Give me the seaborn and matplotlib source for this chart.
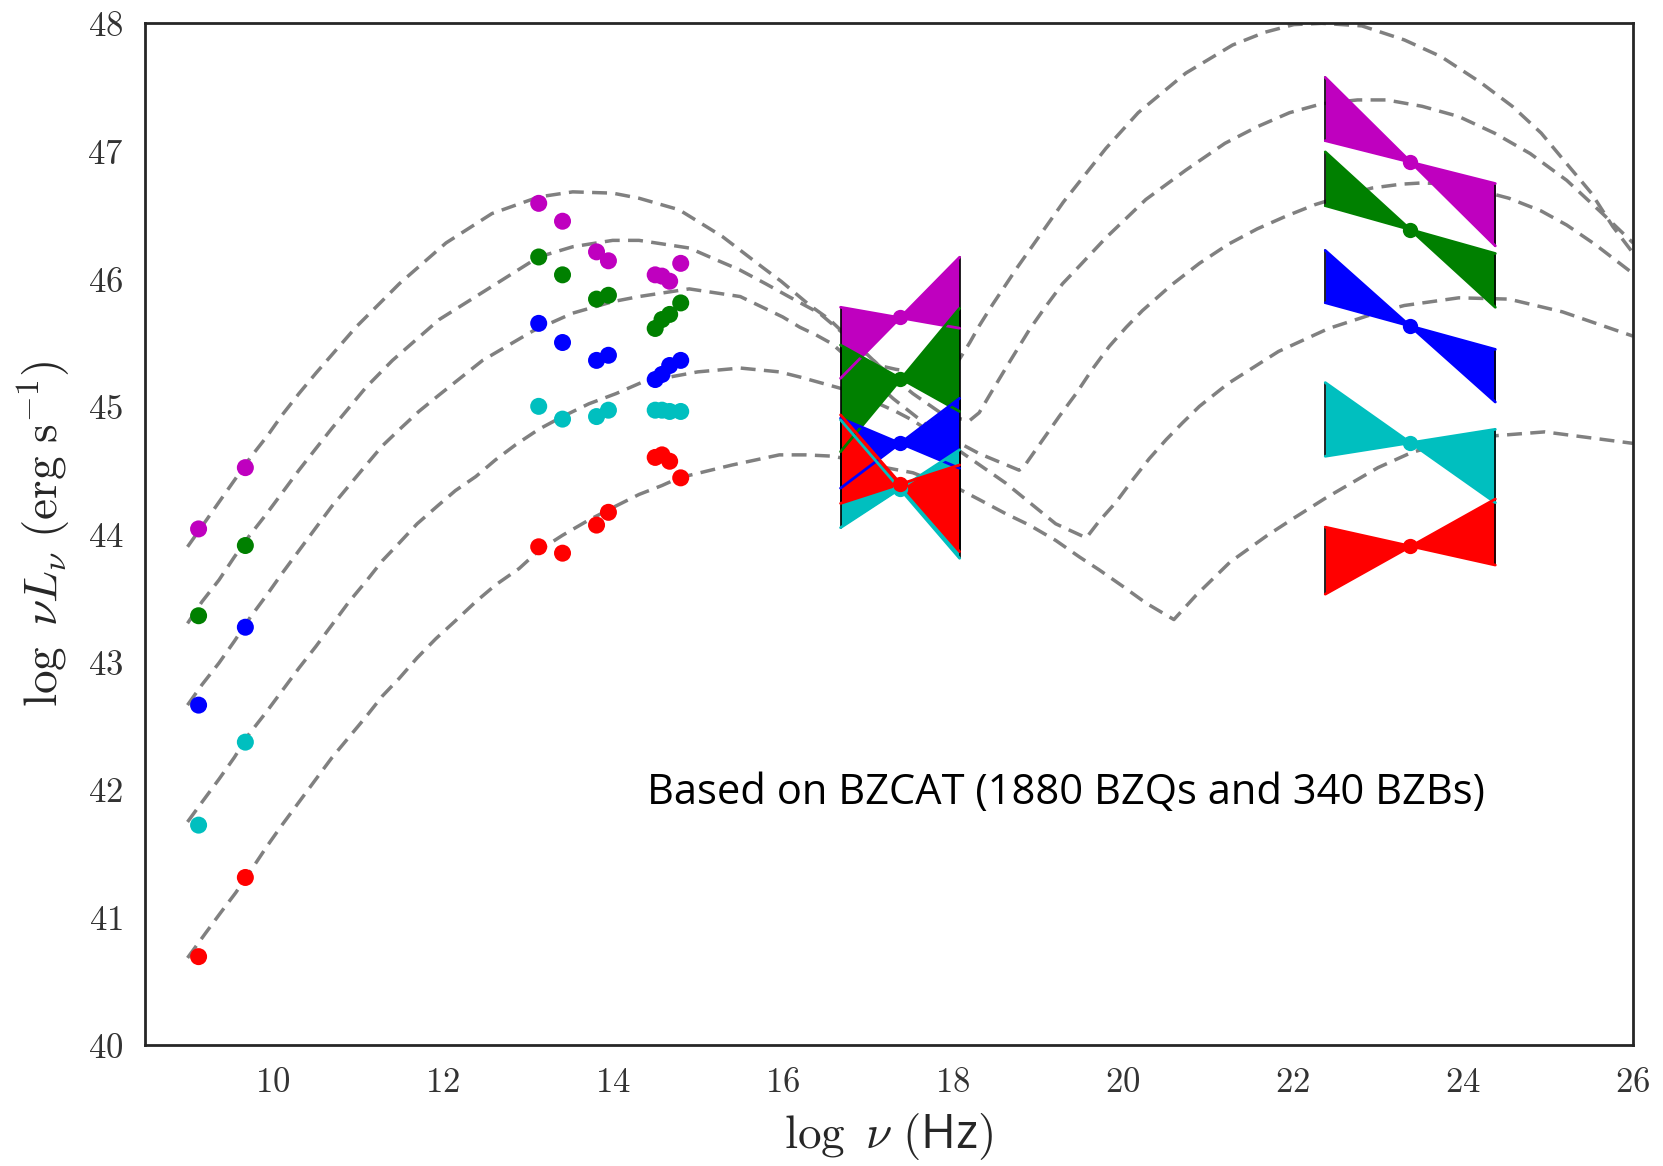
import numpy as np
import pandas as pd
import matplotlib
matplotlib.use("Agg")
import matplotlib.pyplot as plt
import seaborn as sns

# ---------------- data ----------------
series_names = ["m", "g", "b", "c", "r"]
series_colors = ["#BF00BF", "#008000", "#0000FF", "#00BFBF", "#FF0000"]

x_radio = [9.13, 9.68]
x_ir = [13.13, 13.41, 13.81, 13.95]
x_opt = [14.50, 14.58, 14.67, 14.80]

radio_m = [44.04, 44.52]
radio_g = [43.36, 43.91]
radio_b = [42.66, 43.27]
radio_c = [41.72, 42.37]
radio_r = [40.69, 41.31]

ir_m = [46.59, 46.45, 46.21, 46.14]
ir_g = [46.17, 46.03, 45.84, 45.87]
ir_b = [45.65, 45.50, 45.36, 45.40]
ir_c = [45.00, 44.90, 44.92, 44.97]
ir_r = [43.90, 43.85, 44.07, 44.17]

opt_m = [46.03, 46.02, 45.98, 46.12]
opt_g = [45.61, 45.68, 45.72, 45.81]
opt_b = [45.21, 45.25, 45.32, 45.36]
opt_c = [44.97, 44.97, 44.96, 44.96]
opt_r = [44.60, 44.62, 44.57, 44.44]

# X-ray bow-ties: left edge, centre, right edge (log nu); two lines (left, right) and centre value
xray_x = [16.68, 17.38, 18.08]
xray_lineA = [(45.776, 45.612), (45.48, 44.96), (44.907, 44.515), (44.894, 43.81), (44.933, 43.862)]
xray_lineB = [(45.220, 46.168), (44.645, 45.768), (44.359, 45.063), (44.05, 44.66), (44.24, 44.541)]
xray_center = [45.698, 45.215, 44.711, 44.353, 44.392]

# gamma-ray bow-ties
gamma_x = [22.38, 23.38, 24.38]
gamma_lineA = [(47.576, 46.257), (46.993, 45.776), (46.221, 45.034), (45.186, 44.246), (44.054, 43.757)]
gamma_lineB = [(47.081, 46.745), (46.572, 46.197), (45.812, 45.446), (44.609, 44.82), (43.529, 44.274)]
gamma_center = [46.91, 46.385, 45.63, 44.716, 43.905]

# SED model curves
curve1_x = [9.0, 9.17, 9.37, 9.55, 9.74, 9.94, 10.11, 10.31, 10.51, 10.98, 11.49, 12.04, 12.58, 13.13,
            13.53, 14.0, 14.31, 14.78, 15.29, 15.76, 15.98, 16.32, 16.55, 16.74, 16.94, 17.13, 17.33,
            17.53, 17.72, 17.92, 18.06, 18.20, 18.31, 18.47, 18.62, 18.76, 19.3, 19.8, 20.18, 20.74,
            21.29, 21.67, 22.01, 22.34, 22.81, 23.31, 23.74, 24.2, 24.58, 24.92, 25.22, 25.51, 25.76, 26.0]
curve1_y = [43.90, 44.06, 44.25, 44.42, 44.60, 44.77, 44.93, 45.10, 45.26, 45.62, 45.96, 46.28, 46.51, 46.64,
            46.68, 46.67, 46.63, 46.54, 46.33, 46.09, 45.98, 45.79, 45.68, 45.56, 45.44, 45.32, 45.29,
            45.27, 45.28, 45.31, 45.35, 45.50, 45.63, 45.80, 45.95, 46.09, 46.60, 47.02, 47.30, 47.61,
            47.83, 47.93, 47.99, 48.0, 47.98, 47.87, 47.74, 47.54, 47.35, 47.14, 46.90, 46.67, 46.41, 46.20]

curve2_x = [9.0, 9.17, 9.37, 9.55, 9.72, 9.92, 10.11, 10.31, 10.51, 10.70, 10.90, 11.10, 11.41, 11.96,
            12.51, 13.13, 13.53, 14.0, 14.31, 14.90, 15.21, 15.49, 15.80, 16.07, 16.43, 16.82, 17.13,
            17.53, 17.92, 18.20, 18.31, 18.47, 18.66, 18.90, 19.09, 19.29, 19.49, 19.80, 20.27, 20.74,
            21.20, 21.58, 21.96, 22.34, 22.76, 23.10, 23.52, 23.95, 24.37, 24.79, 25.22, 25.64, 26.0]
curve2_y = [43.30, 43.47, 43.64, 43.82, 43.98, 44.15, 44.32, 44.50, 44.67, 44.83, 44.99, 45.15, 45.36, 45.68,
            45.91, 46.17, 46.25, 46.30, 46.30, 46.24, 46.15, 46.07, 45.96, 45.86, 45.73, 45.51, 45.32,
            45.10, 44.92, 44.89, 44.95, 45.13, 45.34, 45.60, 45.78, 45.96, 46.10, 46.32, 46.62, 46.85,
            47.06, 47.19, 47.30, 47.37, 47.40, 47.40, 47.35, 47.27, 47.14, 46.98, 46.77, 46.51, 46.28]

curve3_x = [9.0, 9.17, 9.37, 9.55, 9.74, 9.94, 10.11, 10.31, 10.51, 10.70, 10.90, 11.10, 11.29, 11.51,
            11.72, 11.96, 12.47, 13.06, 13.53, 14.0, 14.31, 14.9, 15.5, 16.0, 16.20, 16.39, 16.58, 16.9,
            17.3, 17.72, 18.31, 18.78, 18.86, 19.06, 19.25, 19.45, 19.64, 19.84, 20.04, 20.23, 20.57,
            20.9, 21.24, 21.58, 21.92, 22.26, 22.60, 22.93, 23.27, 23.52, 23.86, 24.20, 24.54, 24.92,
            25.22, 25.55, 26.0]
curve3_y = [42.66, 42.82, 42.99, 43.16, 43.35, 43.53, 43.69, 43.87, 44.05, 44.22, 44.38, 44.54, 44.69, 44.83,
            44.96, 45.09, 45.36, 45.59, 45.73, 45.82, 45.86, 45.92, 45.86, 45.70, 45.62, 45.56, 45.49, 45.30,
            45.06, 44.84, 44.63, 44.50, 44.55, 44.74, 44.92, 45.10, 45.29, 45.47, 45.62, 45.75, 45.95,
            46.12, 46.27, 46.39, 46.49, 46.58, 46.65, 46.71, 46.74, 46.75, 46.74, 46.69, 46.63, 46.53,
            46.42, 46.27, 46.04]

curve4_x = [9.0, 9.17, 9.37, 9.55, 9.72, 9.92, 10.11, 10.31, 10.51, 10.70, 10.90, 11.10, 11.29, 11.49,
            11.70, 11.94, 12.15, 12.39, 12.62, 12.86, 13.13, 13.41, 13.72, 14.04, 14.35, 15.0, 15.5,
            15.96, 16.20, 16.47, 16.74, 16.94, 17.13, 17.33, 17.53, 18.08, 18.62, 19.21, 19.57, 19.72,
            19.92, 20.11, 20.31, 20.51, 20.70, 20.90, 21.24, 21.83, 22.42, 23.02, 23.31, 23.95, 24.54,
            25.17, 26.0]
curve4_y = [41.745, 41.90, 42.08, 42.25, 42.43, 42.60, 42.77, 42.95, 43.12, 43.29, 43.47, 43.63, 43.79, 43.93,
            44.08, 44.22, 44.34, 44.45, 44.58, 44.70, 44.82, 44.92, 45.02, 45.10, 45.19, 45.27, 45.30,
            45.27, 45.23, 45.18, 45.13, 45.08, 45.02, 44.96, 44.89, 44.65, 44.40, 44.08, 43.97, 44.10,
            44.25, 44.42, 44.59, 44.74, 44.87, 45.00, 45.18, 45.43, 45.61, 45.74, 45.79, 45.85, 45.84,
            45.74, 45.55]

curve5_x = [9.0, 9.213, 9.39, 9.566, 9.76, 9.94, 10.11, 10.31, 10.51, 10.70, 10.90, 11.10, 11.29, 11.49,
            11.70, 11.92, 12.15, 12.39, 12.62, 12.90, 13.13, 13.41, 13.72, 14.04, 14.31, 14.58, 14.78,
            15.4, 15.96, 16.27, 16.58, 16.90, 17.21, 17.53, 17.80, 18.08, 18.31, 18.62, 18.90, 19.21,
            19.49, 19.72, 20.0, 20.27, 20.60, 20.86, 21.26, 21.7, 22.0, 22.38, 23.0, 23.40, 24.0, 24.96, 26.0]
curve5_y = [40.68, 40.875, 41.035, 41.19, 41.38, 41.56, 41.72, 41.90, 42.08, 42.25, 42.41, 42.57, 42.73, 42.87,
            43.03, 43.18, 43.32, 43.47, 43.60, 43.73, 43.87, 43.99, 44.11, 44.22, 44.31, 44.38, 44.44,
            44.54, 44.62, 44.62, 44.61, 44.57, 44.52, 44.48, 44.41, 44.35, 44.27, 44.16, 44.07, 43.95,
            43.82, 43.72, 43.59, 43.46, 43.33, 43.52, 43.78, 43.99, 44.12, 44.28, 44.52, 44.64, 44.75, 44.80, 44.71]

xticks = [10, 12, 14, 16, 18, 20, 22, 24, 26]
yticks = [40, 41, 42, 43, 44, 45, 46, 47, 48]
annotation = "Based on BZCAT (1880 BZQs and 340 BZBs)"

# ---------------- style ----------------
sns.set_style("white")
plt.rcParams["mathtext.fontset"] = "cm"
plt.rcParams["font.family"] = ["Open Sans", "DejaVu Sans"]
plt.rcParams["axes.edgecolor"] = "#262626"
plt.rcParams["axes.linewidth"] = 2.0

fig = plt.figure(figsize=(16.63, 11.66), dpi=100)
ax = fig.add_axes([0.0872, 0.104, 0.8948, 0.876])

# curves
curves = [(curve1_x, curve1_y), (curve2_x, curve2_y), (curve3_x, curve3_y),
          (curve4_x, curve4_y), (curve5_x, curve5_y)]
for i, (cx, cy) in enumerate(curves):
    df = pd.DataFrame({"x": cx, "y": cy})
    sns.lineplot(data=df, x="x", y="y", ax=ax, sort=False, estimator=None,
                 color="gray", lw=2.5, zorder=1)
    ax.lines[-1].set_dashes([4.3, 2.4])

# points
rows = []
radios = [radio_m, radio_g, radio_b, radio_c, radio_r]
irs = [ir_m, ir_g, ir_b, ir_c, ir_r]
opts = [opt_m, opt_g, opt_b, opt_c, opt_r]
for name, ra, ir, op in zip(series_names, radios, irs, opts):
    for xv, yv in zip(x_radio + x_ir + x_opt, ra + ir + op):
        rows.append({"x": xv, "y": yv, "s": name})
pts = pd.DataFrame(rows)
sns.scatterplot(data=pts, x="x", y="y", hue="s", palette=dict(zip(series_names, series_colors)),
                s=150, linewidth=0, legend=False, ax=ax, zorder=4)

# bow-ties
def bowtie(xs, la, lb, yc, col):
    y1 = [la[0], yc, la[1]]
    y2 = [lb[0], yc, lb[1]]
    ax.fill_between(xs, y1, y2, color=col, lw=0, zorder=2)
    return y1, y2

for xs, LA, LB, YC in [(xray_x, xray_lineA, xray_lineB, xray_center),
                       (gamma_x, gamma_lineA, gamma_lineB, gamma_center)]:
    lines = []
    for la, lb, yc, col in zip(LA, LB, YC, series_colors):
        lines.append((bowtie(xs, la, lb, yc, col), col))
    for (y1, y2), col in lines:
        ax.plot([xs[0], xs[0]], [y1[0], y2[0]], color="black", lw=1.2, zorder=2.5)
        ax.plot([xs[2], xs[2]], [y1[2], y2[2]], color="black", lw=1.2, zorder=2.5)
        ax.plot([xs[0], xs[2]], [y1[0], y1[2]], color=col, lw=2.0, zorder=3)
        ax.plot([xs[0], xs[2]], [y2[0], y2[2]], color=col, lw=2.0, zorder=3)
    for yc, col in zip(YC, series_colors):
        ax.plot([xs[1]], [yc], "o", color=col, ms=11, mew=0, zorder=4)

ax.set_xlim(8.5, 26)
ax.set_ylim(40, 48)
ax.set_xticks(xticks)
ax.set_yticks(yticks)
ax.set_xticklabels([r"$%d$" % t for t in xticks], fontsize=25, color="#333333")
ax.set_yticklabels([r"$%d$" % t for t in yticks], fontsize=25, color="#333333")
ax.tick_params(axis="x", pad=12)
ax.tick_params(axis="y", pad=12)
ax.set_xlabel(r"$\log\ \nu\ ($Hz$)$", fontsize=34, labelpad=8)
ax.set_ylabel(r"$\log\ \nu L_\nu\ (\mathrm{erg\ s^{-1}})$", fontsize=34, labelpad=10)

ax.text(14.4, 41.97, annotation, fontsize=30, va="center", ha="left",
        family=["Open Sans", "DejaVu Sans"], color="black")

fig.savefig("out.png", dpi=100)
